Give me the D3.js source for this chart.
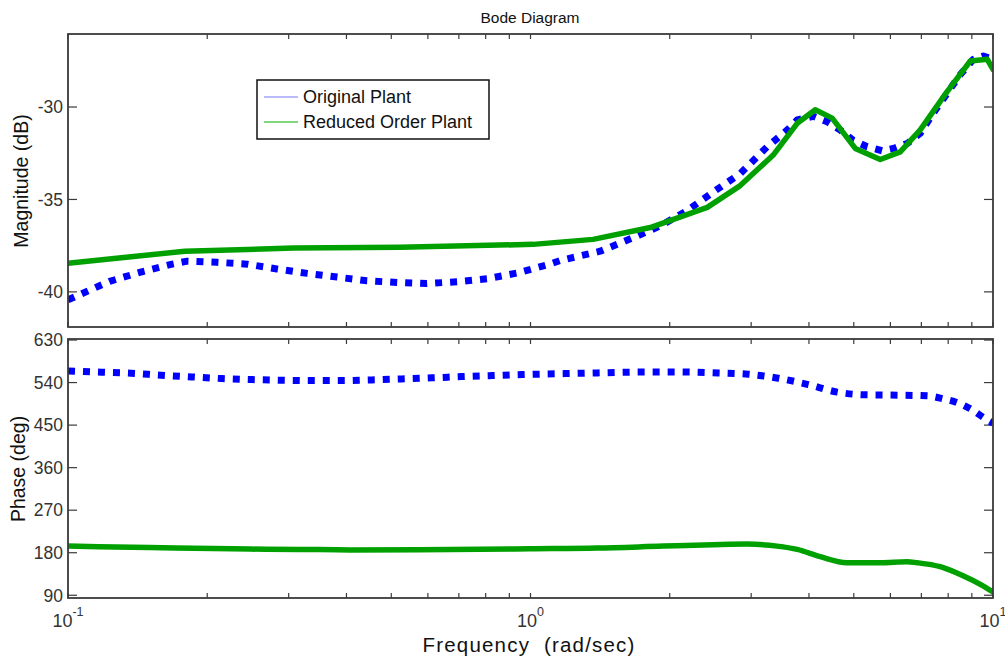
<!DOCTYPE html>
<html>
<head>
<meta charset="utf-8">
<script src="https://cdn.jsdelivr.net/npm/d3@7/dist/d3.min.js"></script>
<style>
  html, body { margin: 0; padding: 0; background: #fff; }
  svg { display: block; font-family: "Liberation Sans", Arial, Helvetica, sans-serif; }
</style>
</head>
<body>
<svg id="chart" width="1005" height="661"></svg>
<script>
// Magnitude of the original plant (frequency in rad/sec, magnitude in dB)
const magOrigFreq = [0.1, 0.123, 0.145, 0.168, 0.181, 0.210, 0.244, 0.283, 0.329, 0.382, 0.443, 0.515, 0.597, 0.694, 0.806, 0.936, 1.10, 1.16, 1.415, 1.667, 1.908, 2.182, 2.483, 2.841, 3.249, 3.591, 3.773, 4.087, 4.381, 4.674, 4.986, 5.346, 5.763, 6.088, 6.527, 6.961, 7.428, 7.965, 8.501, 9.067, 9.528, 10];
const magOrig = [-40.43, -39.43, -38.9, -38.5, -38.34, -38.4, -38.5, -38.76, -39.0, -39.2, -39.4, -39.49, -39.55, -39.45, -39.29, -38.98, -38.5, -38.3, -37.8, -37.07, -36.43, -35.6, -34.6, -33.6, -32.15, -31.24, -30.7, -30.5, -30.8, -31.24, -31.8, -32.15, -32.37, -32.24, -31.97, -31.42, -30.33, -29.24, -28.24, -27.42, -27.24, -27.42];

// Magnitude of the reduced order plant
const magRedFreq = [0.1, 0.179, 0.307, 0.522, 1.013, 1.366, 1.815, 2.411, 2.841, 3.348, 3.773, 4.128, 4.49, 5.037, 5.705, 6.302, 6.961, 7.965, 8.932, 9.72, 10];
const magRed = [-38.45, -37.8, -37.63, -37.58, -37.43, -37.16, -36.52, -35.43, -34.25, -32.6, -30.88, -30.15, -30.6, -32.24, -32.84, -32.43, -31.24, -29.15, -27.51, -27.42, -27.97];

// Phase of the original plant (deg)
const phaseOrigFreq = [0.1, 0.118, 0.137, 0.159, 0.185, 0.215, 0.250, 0.290, 0.336, 0.391, 0.454, 0.527, 0.612, 0.710, 0.825, 0.964, 1.3, 1.626, 2.035, 2.546, 2.956, 3.433, 3.986, 4.604, 5.346, 6.209, 7.21, 7.807, 8.36, 9.007, 9.623, 10];
const phaseOrig = [564.7, 562, 559.8, 555.6, 552, 548.5, 546.3, 545, 544.2, 544.2, 545.7, 547.8, 550, 552.7, 554.8, 556.9, 559.8, 561.9, 562.6, 560.5, 557.7, 549.3, 535.8, 519.8, 514, 513.4, 512, 505.6, 497.8, 482.4, 463.4, 454];

// Phase of the reduced order plant (deg)
const phaseRedFreq = [0.1, 0.150, 0.248, 0.318, 0.407, 0.670, 0.998, 1.391, 1.936, 2.483, 2.937, 3.411, 3.773, 4.231, 4.833, 5.705, 6.516, 6.848, 7.691, 8.639, 9.387, 10];
const phaseRed = [194, 191, 187.7, 187, 186, 186.6, 188.4, 189.8, 194, 196.9, 198.2, 194, 187, 171.6, 158.9, 158.9, 161, 158.9, 150.4, 130.6, 113, 96.8];

// Axis ticks and labels
const magTicks = [-40, -35, -30];
const phaseTicks = [90, 180, 270, 360, 450, 540, 630];
const freqMajor = [0.1, 1, 10];
const freqMajorExp = ["-1", "0", "1"];
const legendLabels = ["Original Plant", "Reduced Order Plant"];
const titleText = "Bode Diagram";
const magLabel = "Magnitude (dB)";
const phaseLabel = "Phase (deg)";
const freqLabel = "Frequency  (rad/sec)";

const svg = d3.select("#chart");
const left = 68, right = 993;
const magBox = { top: 34, bottom: 327 };
const phBox = { top: 339, bottom: 598 };

const x = d3.scaleLog().domain([0.1, 10]).range([left, right]);
const yMag = d3.scaleLinear().domain([-41.9, -26.05]).range([magBox.bottom, magBox.top]);
const yPh = d3.scaleLinear().domain([84.2, 632.2]).range([phBox.bottom, phBox.top]);

const axisColor = "#3a3a3a";
const textColor = "#333";

// minor log ticks 2..9 per decade
const minorFreq = [];
[0.1, 1].forEach(d => { for (let k = 2; k <= 9; k++) minorFreq.push(d * k); });

function drawPanel(box, yScale, yTicks, id) {
  const g = svg.append("g");
  g.append("clipPath").attr("id", id).append("rect")
    .attr("x", left).attr("y", box.top)
    .attr("width", right - left).attr("height", box.bottom - box.top);

  // y tick marks, inward on both sides
  const yt = g.append("g").attr("stroke", axisColor).attr("stroke-width", 1.2);
  yTicks.forEach(t => {
    const yy = yScale(t);
    yt.append("line").attr("x1", left).attr("x2", left + 9).attr("y1", yy).attr("y2", yy);
    yt.append("line").attr("x1", right).attr("x2", right - 9).attr("y1", yy).attr("y2", yy);
  });
  // x tick marks, inward on top and bottom
  freqMajor.concat(minorFreq).forEach(f => {
    const xx = x(f);
    yt.append("line").attr("x1", xx).attr("x2", xx).attr("y1", box.top).attr("y2", box.top + 5);
    yt.append("line").attr("x1", xx).attr("x2", xx).attr("y1", box.bottom).attr("y2", box.bottom - 5);
  });

  // y tick labels
  g.append("g").selectAll("text").data(yTicks).join("text")
    .attr("x", left - 5).attr("y", d => yScale(d)).attr("dy", "0.36em")
    .attr("text-anchor", "end").attr("font-size", 17.5).attr("fill", textColor)
    .text(d => d);

  return g;
}

const magG = drawPanel(magBox, yMag, magTicks, "clipMag");
const phG = drawPanel(phBox, yPh, phaseTicks, "clipPh");

const zip = (fs, vs) => fs.map((f, i) => [f, vs[i]]);

function plotLine(g, clipId, yScale, fs, vs, style) {
  const line = d3.line().x(d => x(d[0])).y(d => yScale(d[1])).curve(style.curve || d3.curveLinear);
  const p = g.append("path").datum(zip(fs, vs))
    .attr("clip-path", `url(#${clipId})`)
    .attr("d", line).attr("fill", "none")
    .attr("stroke", style.color).attr("stroke-width", style.width)
    .attr("stroke-linejoin", "round");
  if (style.dash) p.attr("stroke-dasharray", style.dash).attr("stroke-linecap", "butt");
  else p.attr("stroke-linecap", "round");
}

const blueStyle = { color: "#0000ff", width: 7, dash: "7 8" };
const greenStyle = { color: "#00a000", width: 5.5 };

plotLine(magG, "clipMag", yMag, magOrigFreq, magOrig, blueStyle);
plotLine(magG, "clipMag", yMag, magRedFreq, magRed, greenStyle);
plotLine(phG, "clipPh", yPh, phaseOrigFreq, phaseOrig, Object.assign({ curve: d3.curveMonotoneX }, blueStyle));
plotLine(phG, "clipPh", yPh, phaseRedFreq, phaseRed, Object.assign({ curve: d3.curveMonotoneX }, greenStyle));

// axes boxes drawn on top of the curves
[magBox, phBox].forEach(b => {
  svg.append("rect").attr("x", left).attr("y", b.top)
    .attr("width", right - left).attr("height", b.bottom - b.top)
    .attr("fill", "none").attr("stroke", axisColor).attr("stroke-width", 1.8);
});

// x tick labels with exponent
const xl = svg.append("g");
freqMajor.forEach((f, i) => {
  const t = xl.append("text").attr("x", x(f)).attr("y", 627)
    .attr("text-anchor", "middle").attr("fill", textColor).attr("font-size", 18);
  t.append("tspan").text("10");
  t.append("tspan").attr("dy", -11).attr("font-size", 12.5).text(freqMajorExp[i]);
});

// title and axis labels
svg.append("text").attr("x", 530).attr("y", 23).attr("text-anchor", "middle")
  .attr("font-size", 15.5).attr("fill", "#111").text(titleText);
svg.append("text").attr("transform", "translate(28,181) rotate(-90)").attr("text-anchor", "middle")
  .attr("font-size", 19.5).attr("fill", "#111").text(magLabel);
svg.append("text").attr("transform", "translate(24.5,469) rotate(-90)").attr("text-anchor", "middle")
  .attr("font-size", 19.5).attr("fill", "#111").text(phaseLabel);
svg.append("text").attr("x", 529).attr("y", 652).attr("text-anchor", "middle")
  .attr("font-size", 20.5).attr("letter-spacing", 1.2).attr("fill", "#111")
  .style("white-space", "pre").text(freqLabel);

// legend
const lg = svg.append("g");
lg.append("rect").attr("x", 257).attr("y", 80).attr("width", 232).attr("height", 59)
  .attr("fill", "#fff").attr("stroke", "#111").attr("stroke-width", 1.5);
const legendColors = ["#7777ff", "#00b000"];
const legendY = [97, 122];
legendLabels.forEach((lab, i) => {
  lg.append("line").attr("x1", 264).attr("x2", 298).attr("y1", legendY[i]).attr("y2", legendY[i])
    .attr("stroke", legendColors[i]).attr("stroke-width", 1.2);
  lg.append("text").attr("x", 303).attr("y", legendY[i]).attr("dy", "0.36em")
    .attr("font-size", 18).attr("fill", "#111").text(lab);
});
</script>
</body>
</html>
